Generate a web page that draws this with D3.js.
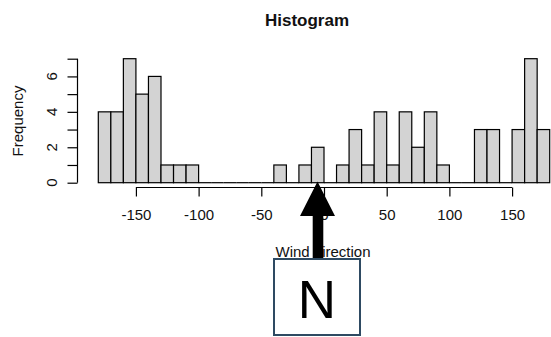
<!DOCTYPE html>
<html>
<head>
<meta charset="utf-8">
<script src="https://cdn.jsdelivr.net/npm/d3@7"></script>
<style>
  body { margin: 0; background: #fff; }
  text { font-family: "Liberation Sans", Arial, sans-serif; }
</style>
</head>
<body>
<svg width="551" height="337"></svg>
<script>
// histogram of wind direction, bins of 10 degrees
var binEdges = [-180, -170, -160, -150, -140, -130, -120, -110, -100, -90, -80, -70, -60, -50, -40, -30, -20, -10,
                0, 10, 20, 30, 40, 50, 60, 70, 80, 90, 100, 110, 120, 130, 140, 150, 160, 170, 180];
var counts = [4, 4, 7, 5, 6, 1, 1, 1, 0, 0, 0, 0, 0, 0, 1, 0, 1, 2,
              0, 1, 3, 1, 4, 1, 4, 2, 4, 1, 0, 0, 3, 3, 0, 3, 7, 3];
var xTicks = [-150, -100, -50, 0, 50, 100, 150];
var yTicks = [0, 1, 2, 3, 4, 5, 6, 7];
var yLabels = [0, 2, 4, 6];

var svg = d3.select("svg");

var x = d3.scaleLinear().domain([-180, 180]).range([98.3, 549.7]);
var y = d3.scaleLinear().domain([0, 7]).range([182.7, 58.7]);

var bins = counts.map(function(c, i) { return {x0: binEdges[i], x1: binEdges[i + 1], n: c}; });

svg.append("g")
  .selectAll("rect")
  .data(bins.filter(function(d) { return d.n > 0; }))
  .enter().append("rect")
    .attr("x", function(d) { return x(d.x0); })
    .attr("width", function(d) { return x(d.x1) - x(d.x0); })
    .attr("y", function(d) { return y(d.n); })
    .attr("height", function(d) { return y(0) - y(d.n); })
    .attr("fill", "#d3d3d3")
    .attr("stroke", "#000")
    .attr("stroke-width", 1.2);

// empty bins are drawn flat on the baseline, like R does
svg.append("g")
  .selectAll("line")
  .data(bins.filter(function(d) { return d.n === 0; }))
  .enter().append("line")
    .attr("x1", function(d) { return x(d.x0); })
    .attr("x2", function(d) { return x(d.x1); })
    .attr("y1", y(0)).attr("y2", y(0))
    .attr("stroke", "#000")
    .attr("stroke-width", 1.2);

// x axis (R style: line only between first and last tick)
var xAxis = svg.append("g")
    .attr("transform", "translate(0,187.5)")
    .call(d3.axisBottom(x).tickValues(xTicks).tickSize(9).tickPadding(13)
          .tickFormat(function(d) { return String(d); }).tickSizeOuter(0));
xAxis.select(".domain").remove();
xAxis.append("line")
    .attr("x1", x(xTicks[0])).attr("x2", x(xTicks[xTicks.length - 1]))
    .attr("stroke", "#000").attr("stroke-width", 1.2);
xAxis.selectAll(".tick line").attr("stroke-width", 1.2);
xAxis.selectAll(".tick text")
    .attr("font-size", 15).attr("fill", "#111")
    .style("font-family", "Liberation Sans, Arial, sans-serif");

// y axis
var yAxis = svg.append("g")
    .attr("transform", "translate(77.5,0)")
    .call(d3.axisLeft(y).tickValues(yTicks).tickSize(10).tickFormat(""));
yAxis.select(".domain").remove();
yAxis.append("line")
    .attr("y1", y(0)).attr("y2", y(7))
    .attr("stroke", "#000").attr("stroke-width", 1.2);
yAxis.selectAll(".tick line").attr("stroke-width", 1.2);

svg.append("g")
  .selectAll("text")
  .data(yLabels)
  .enter().append("text")
    .attr("transform", function(d) { return "translate(57," + y(d) + ") rotate(-90)"; })
    .attr("text-anchor", "middle")
    .attr("font-size", 15)
    .attr("fill", "#111")
    .text(function(d) { return d; });

svg.append("text")
    .attr("transform", "translate(23,121) rotate(-90)")
    .attr("text-anchor", "middle")
    .attr("font-size", 15)
    .attr("fill", "#111")
    .text("Frequency");

svg.append("text")
    .attr("x", 323).attr("y", 257)
    .attr("text-anchor", "middle")
    .attr("font-size", 15)
    .attr("fill", "#111")
    .text("Wind direction");

svg.append("text")
    .attr("x", 307).attr("y", 26)
    .attr("text-anchor", "middle")
    .attr("font-size", 17)
    .attr("font-weight", "bold")
    .attr("fill", "#111")
    .text("Histogram");

// north arrow and box
svg.append("path")
    .attr("d", "M317.5,181.5 L335,216 L323.3,216 L323.3,259 L312.7,259 L312.7,216 L300,216 Z")
    .attr("fill", "#000");

svg.append("rect")
    .attr("x", 274).attr("y", 259)
    .attr("width", 86).attr("height", 76)
    .attr("fill", "#fff")
    .attr("stroke", "#2e4a62")
    .attr("stroke-width", 2);

svg.append("text")
    .attr("x", 317).attr("y", 318)
    .attr("text-anchor", "middle")
    .attr("font-size", 53)
    .attr("fill", "#000")
    .text("N");
</script>
</body>
</html>
